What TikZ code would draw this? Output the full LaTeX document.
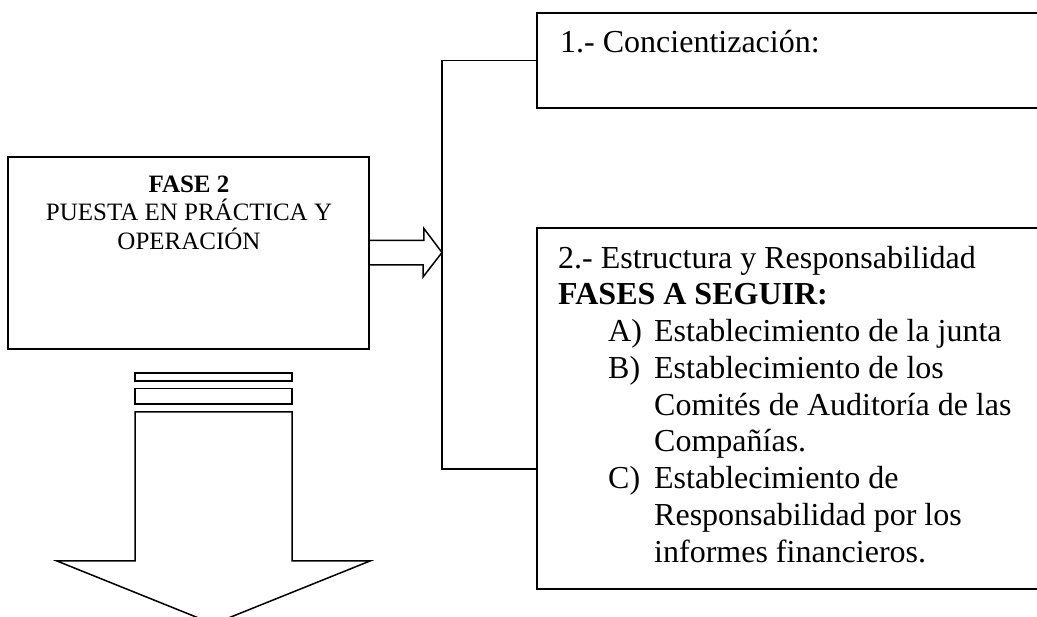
\documentclass[tikz,border=0pt]{standalone}
\usepackage{fontspec}
\setmainfont{Liberation Serif}
\begin{document}
\begin{tikzpicture}[x=1pt,y=-1pt,
  box/.style={draw, rectangle, inner sep=0pt, line width=1.8pt},
  ln/.style={line width=1.5pt, line join=miter},
  lefttxt/.style={inner sep=0pt, align=center, font=\fontsize{25}{28.5}\selectfont},
  righttxt/.style={inner sep=0pt, align=left, font=\fontsize{32}{36.75}\selectfont}]
\useasboundingbox (0,0) rectangle (1037,617);
% left box
\node[box, minimum width=361pt, minimum height=192pt] (fase) at (188.5,253) {};
\node[lefttxt, anchor=north] (fasetxt) at (189,172)
  {\rule{0pt}{20pt}\textbf{FASE 2}\\PUESTA EN PRÁCTICA Y\\OPERACIÓN};
% right boxes
\node[box, minimum width=508pt, minimum height=95.6pt] (b1) at (791,60.5) {};
\node[righttxt, anchor=base west] (t1) at (560,53) {1.- Concientización:};
\node[box, minimum width=508pt, minimum height=361pt] (b2) at (791,408.5) {};
\node[righttxt, anchor=north west] (t2) at (558,244)
  {\rule{0pt}{24pt}2.- Estructura y Responsabilidad\\
   \textbf{FASES A SEGUIR:}\\
   \hspace*{50pt}\makebox[46pt][l]{A)}Establecimiento de la junta\\
   \hspace*{50pt}\makebox[46pt][l]{B)}Establecimiento de los\\
   \hspace*{96pt}Comités de Auditoría de las\\
   \hspace*{96pt}Compañías.\\
   \hspace*{50pt}\makebox[46pt][l]{C)}Establecimiento de\\
   \hspace*{96pt}Responsabilidad por los\\
   \hspace*{96pt}informes financieros.};
% bracket connector
\coordinate (jtop) at (442,60.5);
\coordinate (jbot) at (442,469);
\coordinate (tip) at (442,252.5);
\draw[ln] (b1.west) -- (jtop) -- (jbot) -- (b2.west |- jbot);
% right block arrow
\draw[ln] (fase.east) ++(0,-12.5) -- ++(54,0) -- ++(0,-12) -- (tip)
  -- ++(-19,24.5) -- ++(0,-12) -- ++(-54,0);
% down block arrow with bars
\draw[ln] (135,373) rectangle (292,381);
\draw[ln] (135,388.5) rectangle (292,404);
\draw[ln] (135,412) -- (292,412) -- (292,561) -- (370,561) -- (213.5,624)
  -- (57,561) -- (135,561) -- cycle;
\end{tikzpicture}
\end{document}
